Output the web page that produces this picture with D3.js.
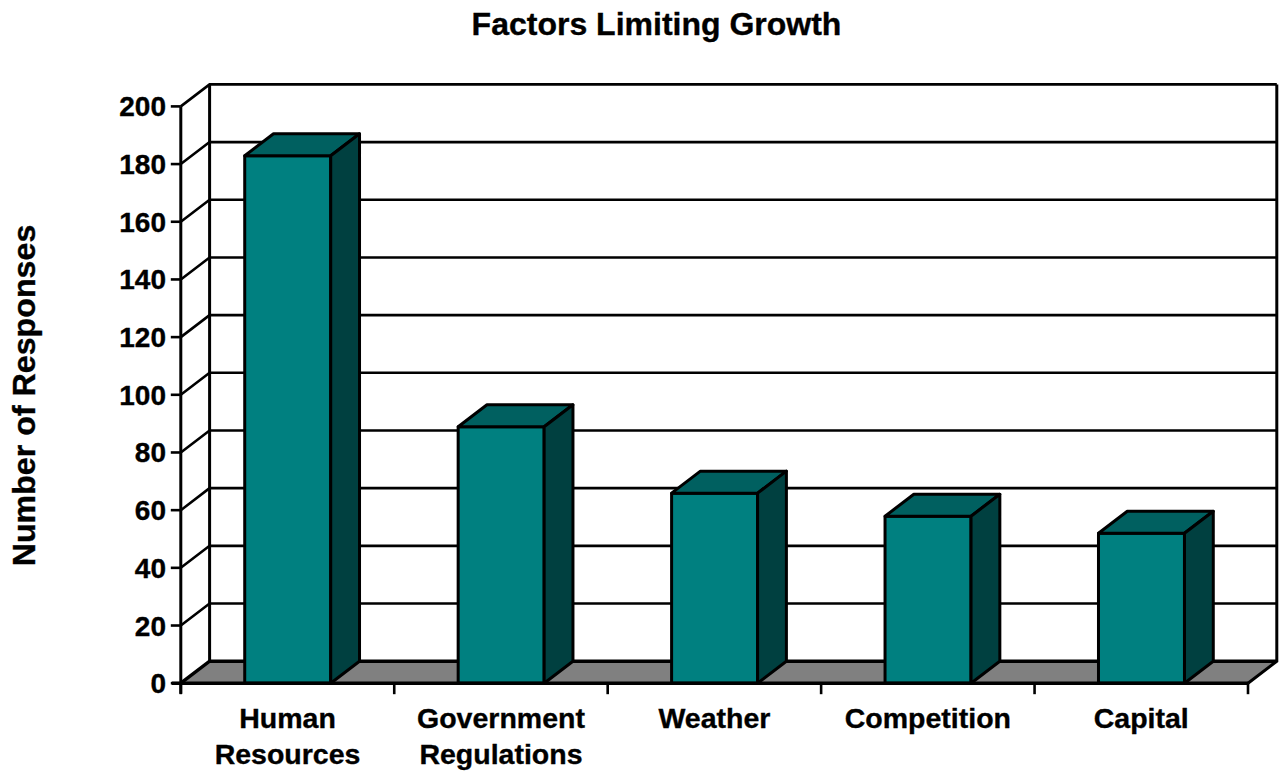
<!DOCTYPE html>
<html><head><meta charset="utf-8">
<script src="https://cdn.jsdelivr.net/npm/d3@7"></script>
<style>html,body{margin:0;padding:0;background:#fff}svg{display:block}text{font-family:"Liberation Sans",Arial,sans-serif;font-weight:700;fill:#000;stroke:#000;stroke-width:.35px}</style>
</head><body><svg id="c" width="1285" height="771"></svg>
<script>
const categories=[["Human","Resources"],["Government","Regulations"],["Weather"],["Competition"],["Capital"]];
const values=[182.9,88.9,65.9,57.9,52];
const yTicks=[0,20,40,60,80,100,120,140,160,180,200];
const chartTitle="Factors Limiting Growth";
const yTitle="Number of Responses";

const svg=d3.select("#c");
const x0=180.8,x1=1248,y0=683.2,y1=106.4,dx=28.8,dy=-22;
const sw=3;
const x=d3.scaleBand().domain(d3.range(categories.length)).range([x0,x1]);
const y=d3.scaleLinear().domain([0,200]).range([y0,y1]);
const barW=86;
const line=d3.line();

svg.append("path").attr("d",line([[x0,y0],[x0+dx,y0+dy],[x1+dx,y0+dy],[x1,y0]])+"Z")
  .attr("fill","#808080").attr("stroke","none");
const grid=svg.append("g").attr("fill","none").attr("stroke","#000");
yTicks.forEach(t=>{
  const yy=y(t);
  grid.append("path").attr("d",line([[x0,yy],[x0+dx,yy+dy],[x1+dx,yy+dy]]))
    .attr("stroke-width",t===0?3.4:2.6);
});
grid.append("path").attr("d",line([[x0+dx,y0+dy],[x0+dx,y1+dy]])).attr("stroke-width",sw);
grid.append("path").attr("d",line([[x1+dx,y1+dy],[x1+dx,y0+dy],[x1,y0]])).attr("stroke-width",sw);
const bars=svg.append("g").attr("stroke","#000").attr("stroke-width",sw).attr("stroke-linejoin","round");
values.forEach((v,i)=>{
  const l=x(i)+(x.bandwidth()-barW)/2+0.2, r=l+barW, t=y(v);
  bars.append("path").attr("fill","#008080").attr("d",line([[l,y0],[l,t],[r,t],[r,y0]])+"Z");
  bars.append("path").attr("fill","#006060").attr("d",line([[l,t],[l+dx,t+dy],[r+dx,t+dy],[r,t]])+"Z");
  bars.append("path").attr("fill","#004040").attr("d",line([[r,t],[r+dx,t+dy],[r+dx,y0+dy],[r,y0]])+"Z");
});
const ax=svg.append("g").attr("fill","none").attr("stroke","#000");
ax.append("path").attr("d",line([[x0,y1],[x0,y0+10.5]])).attr("stroke-width",sw);
ax.append("path").attr("d",line([[x0-9,y0],[x1,y0]])).attr("stroke-width",3.4);
yTicks.forEach(t=>{ax.append("path").attr("d",line([[x0-10,y(t)],[x0,y(t)]])).attr("stroke-width",2.6);});
d3.range(categories.length+1).forEach(i=>{
  const px=i<categories.length?x(i):x1;
  ax.append("path").attr("d",line([[px,y0],[px,y0+11]])).attr("stroke-width",2.6);
});
svg.append("g").selectAll("text").data(yTicks).join("text")
  .attr("x",166).attr("y",d=>y(d)+10).attr("text-anchor","end").attr("font-size",28).text(d=>d);
categories.forEach((lines,i)=>{
  lines.forEach((s,j)=>{
    svg.append("text").attr("x",x(i)+x.bandwidth()/2).attr("y",728+j*36)
      .attr("text-anchor","middle").attr("font-size",28.5).text(s);
  });
});
svg.append("text").attr("x",656.5).attr("y",35).attr("text-anchor","middle").attr("font-size",32).text(chartTitle);
svg.append("text").attr("transform","translate(35,395.5) rotate(-90)").attr("text-anchor","middle").attr("font-size",32.2).text(yTitle);
</script></body></html>
